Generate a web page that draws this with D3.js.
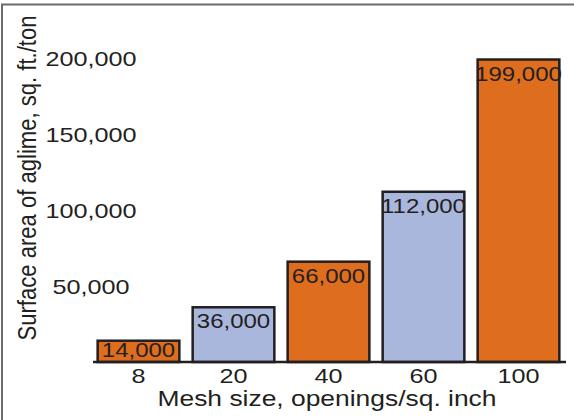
<!DOCTYPE html>
<html>
<head>
<meta charset="utf-8">
<script src="https://cdn.jsdelivr.net/npm/d3@7"></script>
<style>
  body { margin: 0; background: #fff; }
  svg { display: block; }
  text { font-family: "Liberation Sans", Arial, sans-serif; fill: #231f20; }
</style>
</head>
<body>
<svg id="chart" width="574" height="420"></svg>
<script>
var meshSizes = ['8', '20', '40', '60', '100']
var surfaceArea = [14000, 36000, 66000, 112000, 199000]
var barColors = ['#df6d1e', '#aab7dc', '#df6d1e', '#aab7dc', '#df6d1e']
var yTicks = [50000, 100000, 150000, 200000]

var WIDTH = 574
var HEIGHT = 420
var BASELINE = 362
var STRETCH = 1.2

var svg = d3.select('#chart')

// the original figure is squeezed wider than the font, stretch text the same way
function stretch(sel) {
  sel.each(function() {
    var len = this.getComputedTextLength()
    d3.select(this)
      .attr('textLength', len * STRETCH)
      .attr('lengthAdjust', 'spacingAndGlyphs')
  })
}

var x = d3.scaleBand()
  .domain(meshSizes)
  .range([91, 566])
  .paddingInner(0.14)
  .paddingOuter(0.07)

var y = d3.scaleLinear()
  .domain([0, 200000])
  .range([BASELINE, 58])

// frame
svg.append('path')
  .attr('d', 'M2,' + HEIGHT + 'V4.5H' + WIDTH)
  .attr('fill', 'none')
  .attr('stroke', '#6b6b6b')
  .attr('stroke-width', 2)

// bars
svg.selectAll('rect.bar')
  .data(surfaceArea)
  .enter()
  .append('rect')
  .attr('class', 'bar')
  .attr('x', function(d, i) { return x(meshSizes[i]) })
  .attr('y', function(d) { return y(d) })
  .attr('width', x.bandwidth())
  .attr('height', function(d) { return BASELINE - y(d) })
  .attr('fill', function(d, i) { return barColors[i] })
  .attr('stroke', '#231f20')
  .attr('stroke-width', 2.5)

svg.selectAll('text.value')
  .data(surfaceArea)
  .enter()
  .append('text')
  .attr('class', 'value')
  .attr('x', function(d, i) { return x(meshSizes[i]) + x.bandwidth() / 2 })
  .attr('y', function(d) { return Math.min(y(d) + 21, BASELINE - 5) })
  .attr('text-anchor', 'middle')
  .style('font-size', '20px')
  .text(function(d) { return d3.format(',')(d) })
  .call(stretch)

// x axis
var xAxis = svg.append('g')
  .attr('transform', 'translate(0,' + BASELINE + ')')
  .call(d3.axisBottom(x).tickSize(0).tickPadding(0))
xAxis.select('.domain').remove()
xAxis.append('line')
  .attr('x1', 93)
  .attr('x2', 566)
  .attr('stroke', '#231f20')
  .attr('stroke-width', 2.5)
xAxis.selectAll('.tick text')
  .attr('y', 21)
  .attr('dy', 0)
  .style('font-size', '21px')
  .attr('fill', '#231f20')
  .call(stretch)

// y axis, labels only
var yAxis = svg.append('g')
  .attr('transform', 'translate(91,0)')
  .call(d3.axisLeft(y).tickValues(yTicks).tickFormat(d3.format(',')).tickSize(0).tickPadding(0))
yAxis.select('.domain').remove()
yAxis.selectAll('.tick text')
  .attr('text-anchor', 'middle')
  .attr('x', 0)
  .attr('dy', '0.35em')
  .style('font-size', '21px')
  .attr('fill', '#231f20')
  .call(stretch)

svg.append('text')
  .attr('x', 327)
  .attr('y', 406)
  .attr('text-anchor', 'middle')
  .style('font-size', '22px')
  .text('Mesh size, openings/sq. inch')
  .call(stretch)

svg.append('text')
  .attr('transform', 'translate(36,178) scale(' + STRETCH + ',1) rotate(-90)')
  .attr('text-anchor', 'middle')
  .attr('textLength', 325)
  .attr('lengthAdjust', 'spacingAndGlyphs')
  .style('font-size', '21px')
  .text('Surface area of aglime, sq. ft./ton')
</script>
</body>
</html>
